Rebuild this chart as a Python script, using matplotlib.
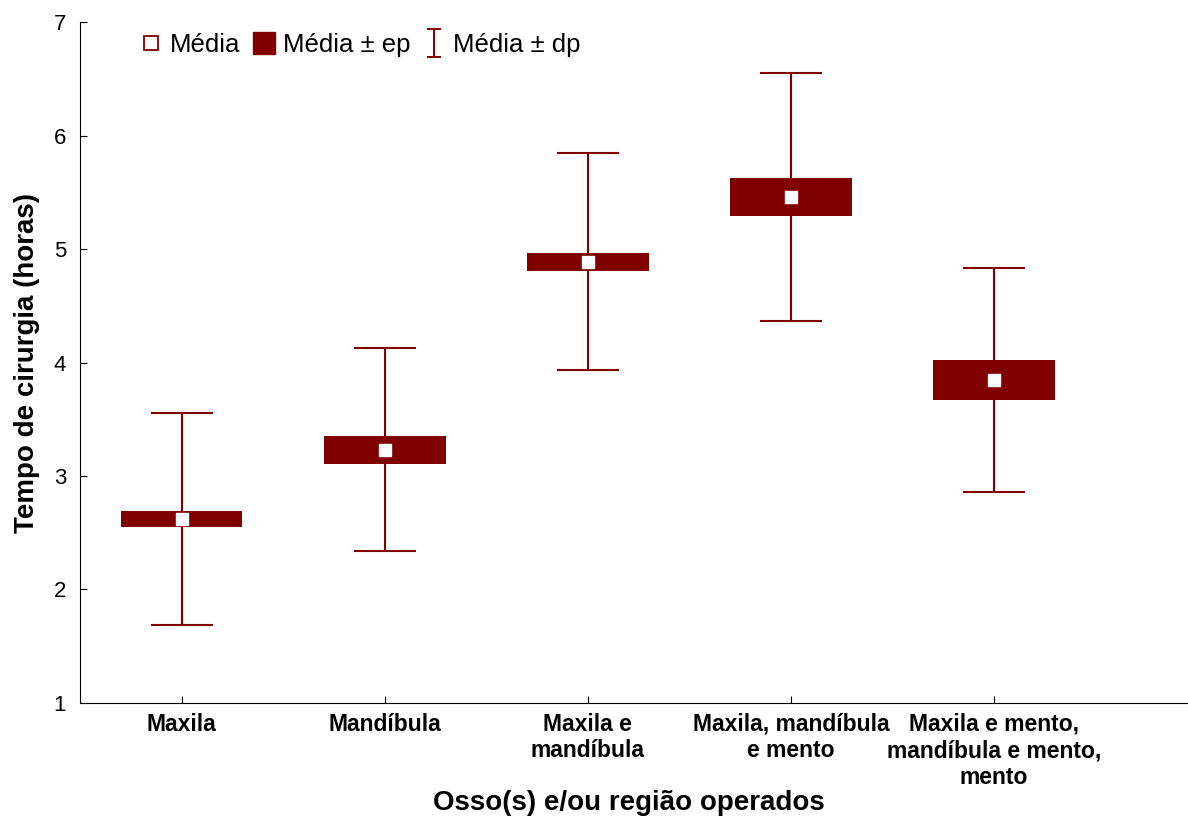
import matplotlib.pyplot as plt
import numpy as np
from matplotlib.lines import Line2D
from matplotlib.path import Path

plt.rcParams['font.family'] = ['Liberation Sans', 'DejaVu Sans']

categorias = ['Maxila', 'Mandíbula', 'Maxila e\nmandíbula',
              'Maxila, mandíbula\ne mento', 'Maxila e mento,\nmandíbula e mento,\nmento']
media = [2.62, 3.23, 4.887, 5.46, 3.847]
ep = [0.07, 0.122, 0.078, 0.167, 0.175]
dp = [0.935, 0.895, 0.955, 1.095, 0.99]

cor = '#800000'

fig = plt.figure(figsize=(11.88, 8.16), dpi=100)
ax = fig.add_axes([0.0673, 0.1385, 0.9327, 0.8345])

x = np.arange(len(categorias))
media = np.array(media)
ep = np.array(ep)
dp = np.array(dp)

ax.errorbar(x, media, yerr=dp, fmt='none', ecolor=cor, elinewidth=1.5,
            capsize=22, capthick=1.5, zorder=1)
ax.bar(x, 2 * ep, bottom=media - ep, width=0.6, color=cor, zorder=2)
ax.plot(x, media, 's', ms=8, mfc='white', mec='white', zorder=3, linestyle='none')

# legenda: simbolo "I" para o desvio padrao
i_path = Path([(-0.5, -1), (0.5, -1), (0, -1), (0, 1), (-0.5, 1), (0.5, 1)],
              [Path.MOVETO, Path.LINETO, Path.MOVETO, Path.LINETO, Path.MOVETO, Path.LINETO])
h_media = Line2D([], [], marker='s', ms=10, mfc='white', mec=cor, mew=1.3, ls='none')
h_ep = Line2D([], [], marker='s', ms=16, mfc=cor, mec=cor, ls='none')
h_dp = Line2D([], [], marker=i_path, ms=20, mfc='none', mec=cor, mew=1.4, ls='none')
ax.legend([h_media, h_ep, h_dp], ['Média', 'Média ± ep', 'Média ± dp'],
          loc='upper left', bbox_to_anchor=(0.034, 1.018), ncol=3, frameon=False,
          fontsize=18.5, handlelength=0.8, handletextpad=0.35, columnspacing=0.5)

ax.set_xlim(-0.5, 4.955)
ax.set_ylim(1, 7)
ax.set_xticks(x)
ax.set_xticklabels(categorias, fontsize=16.5, fontweight='bold', va='top')
ax.set_yticks(range(1, 8))
ax.tick_params(axis='y', direction='in', labelsize=16, length=5, pad=10)
ax.tick_params(axis='x', direction='in', length=5, pad=7)
ax.spines['top'].set_visible(False)
ax.spines['right'].set_visible(False)

ax.set_xlabel('Osso(s) e/ou região operados', fontsize=20, fontweight='bold', va='center')
ax.xaxis.set_label_coords(0.495, -0.147)
ax.set_ylabel('Tempo de cirurgia (horas)', fontsize=20, fontweight='bold', labelpad=10)

fig.savefig('out.png', dpi=100)
